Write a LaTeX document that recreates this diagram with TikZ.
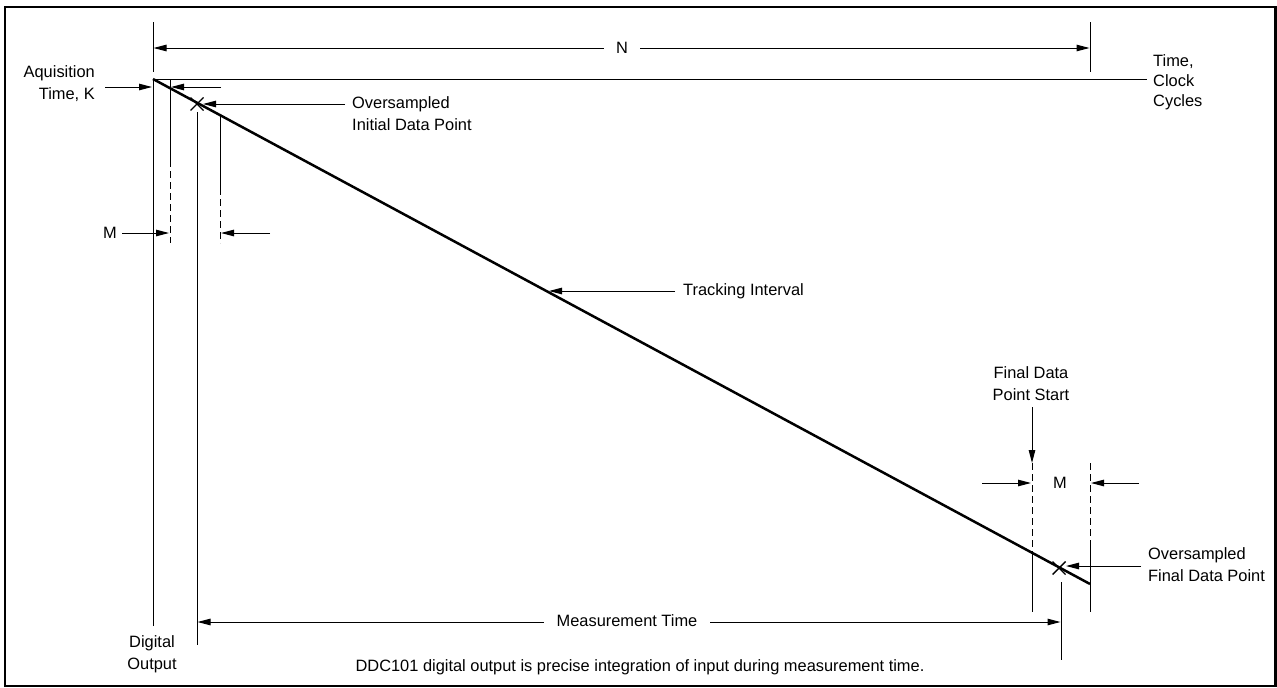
\documentclass[tikz,border=0pt]{standalone}
\usepackage{fontspec}
\setmainfont{Liberation Sans}
\usetikzlibrary{arrows.meta,calc}
\begin{document}
\begin{tikzpicture}[x=1pt,y=-1pt,
  ln/.style={line width=1pt},
  dim/.style={line width=1pt,-{Triangle[length=13pt,width=6.5pt]}},
  ddim/.style={line width=1pt,{Triangle[length=13pt,width=6.5pt]}-{Triangle[length=13pt,width=6.5pt]}},
  dsh/.style={line width=1pt,dash pattern=on 7pt off 4pt},
  lbl/.style={font=\fontsize{16.4}{22}\selectfont,inner sep=0pt},
  gaplbl/.style={lbl,fill=white,inner xsep=12pt,inner ysep=3pt},
  xmark/.style={line width=1.4pt}]
\useasboundingbox (0,0) rectangle (1277,688);
\draw[line width=2.5pt] (5,7) rectangle (1275.5,686);

% axes
\coordinate (O) at (153,79);
\coordinate (tEnd) at (1147,79);
\coordinate (dEnd) at (153,626);
\draw[ln] (dEnd) -- (O) -- (tEnd);
\node[lbl,anchor=west,align=left,font=\fontsize{16.4}{20}\selectfont] (time) at (1153,82) {Time,\\Clock\\Cycles};
\node[lbl,align=center] (dig) at (152,654) {Digital\\Output};

% N dimension
\coordinate (nL1) at (153,22); \coordinate (nL2) at (153,72);
\coordinate (nR1) at (1090,22); \coordinate (nR2) at (1090,72);
\draw[ln] (nL1) -- (nL2); \draw[ln] (nR1) -- (nR2);
\coordinate (nA) at (153.5,48); \coordinate (nB) at (1089.5,48);
\draw[ddim] (nA) -- (nB);
\node[gaplbl] (N) at (622,48) {N};

% tracking line
\coordinate (trEnd) at (1090,584);
\draw[line width=2.5pt] (O) -- (trEnd);

% acquisition
\node[lbl,anchor=east,align=right] (acq) at (95,84) {Aquisition\\Time, K};
\coordinate (acqA) at (105,87); \coordinate (acqB) at (152,87);
\draw[dim] (acqA) -- (acqB);

% K end line and small arrow
\coordinate (k1) at (170,79); \coordinate (k2) at (170,160); \coordinate (k3) at (170,243);
\draw[ln] (k1) -- (k2); \draw[dsh] (k2) -- (k3);
\coordinate (kA) at (221,87); \coordinate (kB) at (171,87);
\draw[dim] (kA) -- (kB);

% initial oversampled point
\coordinate (X1) at (197,104);
\draw[xmark] ($(X1)+(-6.5,-6.5)$) -- ($(X1)+(6.5,6.5)$) ($(X1)+(-6.5,6.5)$) -- ($(X1)+(6.5,-6.5)$);
\node[lbl,anchor=west,align=left] (ovi) at (352,114) {Oversampled\\Initial Data Point};
\coordinate (oviA) at (345,104); \coordinate (oviB) at (203,104);
\draw[dim] (oviA) -- (oviB);

% M line after initial point
\coordinate (m1) at (220,115); \coordinate (m2) at (220,188); \coordinate (m3) at (220,243);
\draw[ln] (m1) -- (m2); \draw[dsh] (m2) -- (m3);

% left M dimension
\node[lbl] (Ml) at (110,233) {M};
\coordinate (MlA) at (122,233); \coordinate (MlB) at (169,233);
\draw[dim] (MlA) -- (MlB);
\coordinate (MrA) at (270,233); \coordinate (MrB) at (221,233);
\draw[dim] (MrA) -- (MrB);

% measurement time start line
\coordinate (ms1) at (197,112); \coordinate (ms2) at (197,645);
\draw[ln] (ms1) -- (ms2);

% tracking interval
\node[lbl,anchor=west] (track) at (683,291) {Tracking Interval};
\coordinate (trA) at (675,291); \coordinate (trB) at (549,291);
\draw[dim] (trA) -- (trB);

% final data point start
\node[lbl,align=center] (fdps) at (1031,384) {Final Data\\Point Start};
\coordinate (fA) at (1032,407); \coordinate (fB) at (1032,463);
\draw[dim] (fA) -- (fB);
\coordinate (f3) at (1032,553); \coordinate (f4) at (1032,612);
\draw[dsh] (fB) -- (f3); \draw[ln] (f3) -- (f4);
\coordinate (g1) at (1090,463); \coordinate (g2) at (1090,547); \coordinate (g3) at (1090,612);
\draw[dsh] (g1) -- (g2); \draw[ln] (g2) -- (g3);

% right M dimension
\node[lbl] (Mr) at (1060,483) {M};
\coordinate (MaA) at (982,483); \coordinate (MaB) at (1031,483);
\draw[dim] (MaA) -- (MaB);
\coordinate (MbA) at (1139,483); \coordinate (MbB) at (1091,483);
\draw[dim] (MbA) -- (MbB);

% final oversampled point
\coordinate (X2) at (1059,568);
\draw[xmark] ($(X2)+(-6.5,-6.5)$) -- ($(X2)+(6.5,6.5)$) ($(X2)+(-6.5,6.5)$) -- ($(X2)+(6.5,-6.5)$);
\node[lbl,anchor=west,align=left] (ovf) at (1148,565) {Oversampled\\Final Data Point};
\coordinate (ovfA) at (1141,566); \coordinate (ovfB) at (1066,566);
\draw[dim] (ovfA) -- (ovfB);

% measurement time end line
\coordinate (me1) at (1061,582); \coordinate (me2) at (1061,660);
\draw[ln] (me1) -- (me2);

% measurement time dimension
\coordinate (mtA) at (197.5,622); \coordinate (mtB) at (1060.5,622);
\draw[ddim] (mtA) -- (mtB);
\node[gaplbl,inner xsep=13pt] (mt) at (627,621) {Measurement Time};

% caption
\node[lbl] (cap) at (640,667) {DDC101 digital output is precise integration of input during measurement time.};
\end{tikzpicture}
\end{document}
